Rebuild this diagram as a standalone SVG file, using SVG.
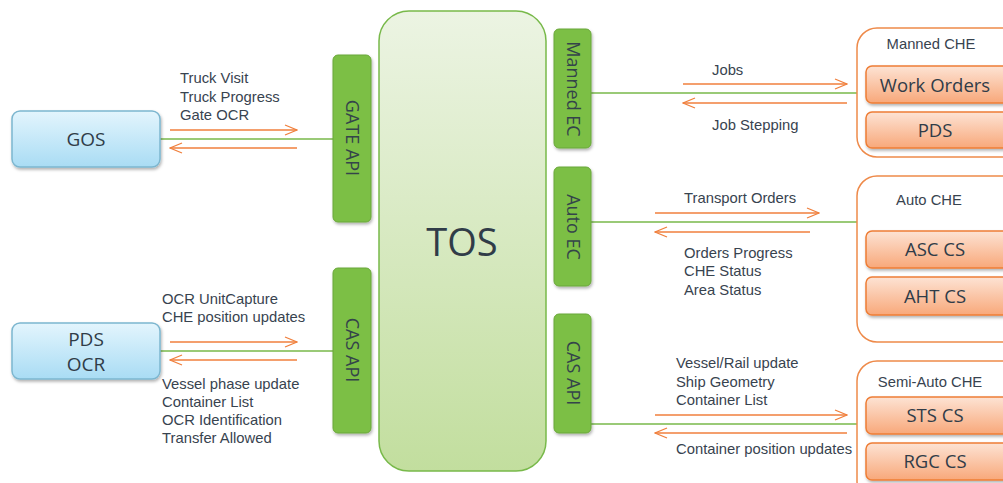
<svg xmlns="http://www.w3.org/2000/svg" width="1003" height="483" viewBox="0 0 1003 483">
<defs>
<linearGradient id="gBlue" x1="0" y1="0" x2="0" y2="1"><stop offset="0" stop-color="#e3f5fd"/><stop offset="1" stop-color="#a9dcf4"/></linearGradient>
<linearGradient id="gTos" x1="0" y1="0" x2="0" y2="1"><stop offset="0" stop-color="#ecf4e3"/><stop offset="1" stop-color="#c2de9e"/></linearGradient>
<linearGradient id="gOr" x1="0" y1="0" x2="0" y2="1"><stop offset="0" stop-color="#fde3d4"/><stop offset="1" stop-color="#f8a87a"/></linearGradient>
<filter id="sh" x="-10%" y="-10%" width="130%" height="140%"><feDropShadow dx="1" dy="2" stdDeviation="1.5" flood-color="#000" flood-opacity="0.3"/></filter>
<marker id="ah" markerWidth="14" markerHeight="12" refX="13" refY="6" orient="auto" markerUnits="userSpaceOnUse"><polyline points="1,1 13,6 1,11" fill="none" stroke="#f07f3c" stroke-width="1.3"/></marker>
</defs>
<style>
.lbl{font-family:"Liberation Sans",Arial,sans-serif;font-size:14.8px;fill:#38434f}
.box{font-family:"Open Sans",sans-serif;fill:#303c48}
.bar{fill:#7bbf44;stroke:#6aa73a;stroke-width:1}
.vt{font-family:"Open Sans",sans-serif;font-size:18px;fill:#34444a}
.or{fill:url(#gOr);stroke:#ee7d35;stroke-width:1.5}
.grp{fill:#fff;stroke:#ee8a4a;stroke-width:1.5}
.gl{stroke:#78b94a;stroke-width:1.3;fill:none}
.arr{stroke:#f07f3c;stroke-width:1.5;fill:none}
</style>
<g id="connectors">
<line class="gl" x1="160" y1="139" x2="333" y2="139"/>
<line class="arr" x1="170" y1="130" x2="297" y2="130" marker-end="url(#ah)"/>
<line class="arr" x1="297" y1="148" x2="170" y2="148" marker-end="url(#ah)"/>
<line class="gl" x1="160" y1="351" x2="333" y2="351"/>
<line class="arr" x1="170" y1="342" x2="297" y2="342" marker-end="url(#ah)"/>
<line class="arr" x1="297" y1="360" x2="170" y2="360" marker-end="url(#ah)"/>
<line class="gl" x1="591" y1="93" x2="857" y2="93"/>
<line class="arr" x1="683" y1="84" x2="847" y2="84" marker-end="url(#ah)"/>
<line class="arr" x1="847" y1="103" x2="683" y2="103" marker-end="url(#ah)"/>
<line class="gl" x1="591" y1="222" x2="857" y2="222"/>
<line class="arr" x1="655" y1="213" x2="819" y2="213" marker-end="url(#ah)"/>
<line class="arr" x1="810" y1="232" x2="655" y2="232" marker-end="url(#ah)"/>
<line class="gl" x1="591" y1="424" x2="857" y2="424"/>
<line class="arr" x1="655" y1="415" x2="847" y2="415" marker-end="url(#ah)"/>
<line class="arr" x1="847" y1="433" x2="655" y2="433" marker-end="url(#ah)"/>
</g>
<g id="labels">
<text class="lbl" x="180" y="83">Truck Visit</text>
<text class="lbl" x="180" y="102">Truck Progress</text>
<text class="lbl" x="180" y="120">Gate OCR</text>
<text class="lbl" x="162" y="304">OCR UnitCapture</text>
<text class="lbl" x="162" y="322">CHE position updates</text>
<text class="lbl" x="162" y="389">Vessel phase update</text>
<text class="lbl" x="162" y="407">Container List</text>
<text class="lbl" x="162" y="425">OCR Identification</text>
<text class="lbl" x="162" y="443">Transfer Allowed</text>
<text class="lbl" x="712" y="75">Jobs</text>
<text class="lbl" x="712" y="130">Job Stepping</text>
<text class="lbl" x="684" y="203">Transport Orders</text>
<text class="lbl" x="684" y="258">Orders Progress</text>
<text class="lbl" x="684" y="276">CHE Status</text>
<text class="lbl" x="684" y="295">Area Status</text>
<text class="lbl" x="676" y="368">Vessel/Rail update</text>
<text class="lbl" x="676" y="387">Ship Geometry</text>
<text class="lbl" x="676" y="405">Container List</text>
<text class="lbl" x="676" y="454">Container position updates</text>
</g>
<g id="GOS">
<rect x="12" y="111" width="148" height="56" rx="8" fill="url(#gBlue)" stroke="#7cb6cf" stroke-width="1.5" filter="url(#sh)"/>
<text class="box" x="86" y="146" font-size="19" text-anchor="middle">GOS</text>
</g>
<g id="PDS_OCR">
<rect x="12" y="323" width="148" height="56" rx="8" fill="url(#gBlue)" stroke="#7cb6cf" stroke-width="1.5" filter="url(#sh)"/>
<text class="box" x="86" y="346" font-size="19" text-anchor="middle">PDS</text>
<text class="box" x="86" y="371" font-size="19" text-anchor="middle">OCR</text>
</g>
<g id="GATE_API">
<rect class="bar" x="333" y="55" width="38" height="167" rx="5" filter="url(#sh)"/>
<text class="vt" transform="translate(352,138) rotate(90)" text-anchor="middle" dy="6">GATE API</text>
</g>
<g id="CAS_API_L">
<rect class="bar" x="333" y="268" width="38" height="165" rx="5" filter="url(#sh)"/>
<text class="vt" transform="translate(352,350) rotate(90)" text-anchor="middle" dy="6">CAS API</text>
</g>
<g id="TOS">
<rect x="379" y="11" width="167" height="460" rx="30" fill="url(#gTos)" stroke="#78b94a" stroke-width="1.5"/>
<text class="box" x="462" y="256" font-size="38" text-anchor="middle">TOS</text>
</g>
<g id="Manned_EC">
<rect class="bar" x="554" y="29" width="37" height="119" rx="5" filter="url(#sh)"/>
<text class="vt" transform="translate(572.5,89) rotate(90)" text-anchor="middle" dy="6">Manned EC</text>
</g>
<g id="Auto_EC">
<rect class="bar" x="554" y="167" width="37" height="119" rx="5" filter="url(#sh)"/>
<text class="vt" transform="translate(572.5,227) rotate(90)" text-anchor="middle" dy="6">Auto EC</text>
</g>
<g id="CAS_API_R">
<rect class="bar" x="554" y="314" width="37" height="119" rx="5" filter="url(#sh)"/>
<text class="vt" transform="translate(572.5,373) rotate(90)" text-anchor="middle" dy="6">CAS API</text>
</g>
<g id="Manned_CHE">
<rect class="grp" x="857" y="28" width="170" height="129" rx="20"/>
<text class="lbl" x="931" y="49" text-anchor="middle">Manned CHE</text>
<rect class="or" x="866" y="66" width="150" height="37" rx="6" filter="url(#sh)"/>
<text class="box" x="935" y="92" font-size="18.5" text-anchor="middle">Work Orders</text>
<rect class="or" x="866" y="112" width="150" height="36" rx="6" filter="url(#sh)"/>
<text class="box" x="935" y="137" font-size="18.5" text-anchor="middle">PDS</text>
</g>
<g id="Auto_CHE">
<rect class="grp" x="857" y="176" width="170" height="166" rx="20"/>
<text class="lbl" x="929" y="205" text-anchor="middle">Auto CHE</text>
<rect class="or" x="866" y="231" width="150" height="37" rx="6" filter="url(#sh)"/>
<text class="box" x="935" y="256" font-size="18.5" text-anchor="middle">ASC CS</text>
<rect class="or" x="866" y="277" width="150" height="38" rx="6" filter="url(#sh)"/>
<text class="box" x="935" y="303" font-size="18.5" text-anchor="middle">AHT CS</text>
</g>
<g id="Semi_Auto_CHE">
<rect class="grp" x="857" y="361" width="170" height="140" rx="20"/>
<text class="lbl" x="930" y="387" text-anchor="middle">Semi-Auto CHE</text>
<rect class="or" x="866" y="397" width="150" height="37" rx="6" filter="url(#sh)"/>
<text class="box" x="935" y="422" font-size="18.5" text-anchor="middle">STS CS</text>
<rect class="or" x="866" y="443" width="150" height="37" rx="6" filter="url(#sh)"/>
<text class="box" x="935" y="468" font-size="18.5" text-anchor="middle">RGC CS</text>
</g>
</svg>
